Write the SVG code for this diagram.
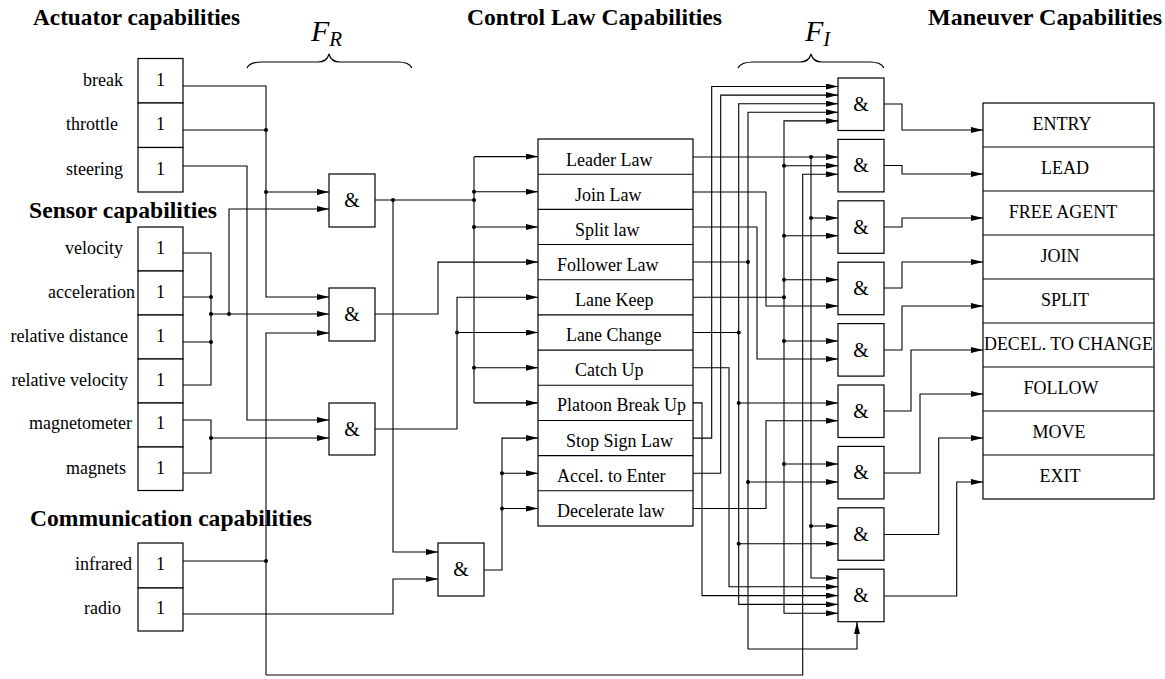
<svg xmlns="http://www.w3.org/2000/svg" width="1165" height="679" viewBox="0 0 1165 679">
<style>
.box{fill:#fff;stroke:#000;stroke-width:1.2}
.w{fill:none;stroke:#000;stroke-width:1.1}
.a{marker-end:url(#ah)}
.d{fill:#000}
text{font-family:"Liberation Serif","Times New Roman",serif;fill:#000}
.lbl{font-size:18px}
.e{text-anchor:end}
.m{text-anchor:middle}
.hdr{font-size:24px;font-weight:bold}
.amp{font-size:20px;text-anchor:middle}
.math{font-size:30px;font-style:italic}
.sub{font-size:21px;font-style:italic}
.brace{fill:none;stroke:#000;stroke-width:1.2}
</style>
<defs>
<marker id="ah" markerUnits="userSpaceOnUse" markerWidth="12" markerHeight="6" refX="12" refY="3" orient="auto">
<path d="M0,0 L12,3 L0,6 z" fill="#000"/>
</marker>
</defs>
<rect width="1165" height="679" fill="#fff"/>

<g id="headers">
<text class="hdr" x="33" y="25" textLength="207" lengthAdjust="spacingAndGlyphs">Actuator capabilities</text>
<text class="hdr" x="29" y="218" textLength="188" lengthAdjust="spacingAndGlyphs">Sensor capabilities</text>
<text class="hdr" x="30" y="526" textLength="282" lengthAdjust="spacingAndGlyphs">Communication capabilities</text>
<text class="hdr" x="467" y="25" textLength="255" lengthAdjust="spacingAndGlyphs">Control Law Capabilities</text>
<text class="hdr" x="928" y="25" textLength="234" lengthAdjust="spacingAndGlyphs">Maneuver Capabilities</text>
</g>

<g id="FR">
<text class="math" x="311" y="41">F<tspan class="sub" dy="5">R</tspan></text>
<path class="brace" d="M247,68 Q250,62 262,62 L318,62 Q327,62 329,54 Q331,62 340,62 L398,62 Q409,62 412,68"/>
</g>
<g id="FI">
<text class="math" x="805" y="41">F<tspan class="sub" dy="5">I</tspan></text>
<path class="brace" d="M738,68 Q741,62 753,62 L800,62 Q809,62 811,54 Q813,62 822,62 L870,62 Q881,62 884,68"/>
</g>

<g id="actuators">
<rect class="box" x="138" y="58.5" width="45" height="44.5"/>
<rect class="box" x="138" y="103" width="45" height="44.5"/>
<rect class="box" x="138" y="147.5" width="45" height="44.5"/>
<text class="lbl e" x="123" y="86">break</text>
<text class="lbl e" x="118" y="130">throttle</text>
<text class="lbl e" x="123" y="175">steering</text>
<text class="lbl m" x="160.5" y="86">1</text>
<text class="lbl m" x="160.5" y="130">1</text>
<text class="lbl m" x="160.5" y="175">1</text>
</g>

<g id="sensors">
<rect class="box" x="138" y="227" width="45" height="44"/>
<rect class="box" x="138" y="271" width="45" height="44"/>
<rect class="box" x="138" y="315" width="45" height="44"/>
<rect class="box" x="138" y="359" width="45" height="44"/>
<rect class="box" x="138" y="403" width="45" height="44"/>
<rect class="box" x="138" y="447" width="45" height="43.5"/>
<text class="lbl e" x="123" y="254">velocity</text>
<text class="lbl e" x="135" y="298">acceleration</text>
<text class="lbl e" x="128" y="342">relative distance</text>
<text class="lbl e" x="128" y="386">relative velocity</text>
<text class="lbl e" x="132" y="429">magnetometer</text>
<text class="lbl e" x="126" y="474">magnets</text>
<text class="lbl m" x="160.5" y="254">1</text>
<text class="lbl m" x="160.5" y="298">1</text>
<text class="lbl m" x="160.5" y="342">1</text>
<text class="lbl m" x="160.5" y="386">1</text>
<text class="lbl m" x="160.5" y="429">1</text>
<text class="lbl m" x="160.5" y="474">1</text>
</g>

<g id="communication">
<rect class="box" x="138" y="543" width="45" height="45"/>
<rect class="box" x="138" y="588" width="45" height="43"/>
<text class="lbl e" x="132" y="570">infrared</text>
<text class="lbl e" x="121" y="614">radio</text>
<text class="lbl m" x="160.5" y="570">1</text>
<text class="lbl m" x="160.5" y="614">1</text>
</g>

<g id="fr-gate-1"><rect class="box" x="329" y="174" width="46" height="53"/><text class="amp" x="352" y="207">&amp;</text></g>
<g id="fr-gate-2"><rect class="box" x="329" y="288" width="46" height="53"/><text class="amp" x="352" y="321">&amp;</text></g>
<g id="fr-gate-3"><rect class="box" x="329" y="403" width="46" height="52"/><text class="amp" x="352" y="436">&amp;</text></g>
<g id="fr-gate-4"><rect class="box" x="438" y="543" width="46" height="53"/><text class="amp" x="461" y="576">&amp;</text></g>

<g id="control-laws">
<rect class="box" x="538" y="139" width="155" height="387"/>
<path class="w" d="M538,174.2 H693 M538,209.4 H693 M538,244.5 H693 M538,279.7 H693 M538,314.9 H693 M538,350.1 H693 M538,385.3 H693 M538,420.5 H693 M538,455.6 H693 M538,490.8 H693"/>
<text class="lbl" x="566" y="166">Leader Law</text>
<text class="lbl" x="575" y="201">Join Law</text>
<text class="lbl" x="575" y="236">Split law</text>
<text class="lbl" x="557" y="271">Follower Law</text>
<text class="lbl" x="575" y="306">Lane Keep</text>
<text class="lbl" x="566" y="341">Lane Change</text>
<text class="lbl" x="575" y="376">Catch Up</text>
<text class="lbl" x="557" y="411">Platoon Break Up</text>
<text class="lbl" x="566" y="447">Stop Sign Law</text>
<text class="lbl" x="557" y="482">Accel. to Enter</text>
<text class="lbl" x="557" y="517">Decelerate law</text>
</g>

<g id="fi-gate-1"><rect class="box" x="838" y="78" width="46" height="52.5"/><text class="amp" x="861" y="111">&amp;</text></g>
<g id="fi-gate-2"><rect class="box" x="838" y="139.4" width="46" height="52.5"/><text class="amp" x="861" y="172.4">&amp;</text></g>
<g id="fi-gate-3"><rect class="box" x="838" y="200.8" width="46" height="52.5"/><text class="amp" x="861" y="233.8">&amp;</text></g>
<g id="fi-gate-4"><rect class="box" x="838" y="262.2" width="46" height="52.5"/><text class="amp" x="861" y="295.2">&amp;</text></g>
<g id="fi-gate-5"><rect class="box" x="838" y="323.6" width="46" height="52.5"/><text class="amp" x="861" y="356.6">&amp;</text></g>
<g id="fi-gate-6"><rect class="box" x="838" y="385" width="46" height="52.5"/><text class="amp" x="861" y="418">&amp;</text></g>
<g id="fi-gate-7"><rect class="box" x="838" y="446.4" width="46" height="52.5"/><text class="amp" x="861" y="479.4">&amp;</text></g>
<g id="fi-gate-8"><rect class="box" x="838" y="507.8" width="46" height="52.5"/><text class="amp" x="861" y="540.8">&amp;</text></g>
<g id="fi-gate-9"><rect class="box" x="838" y="569.2" width="46" height="52.5"/><text class="amp" x="861" y="602.2">&amp;</text></g>

<g id="maneuvers">
<rect class="box" x="983" y="103" width="171" height="396"/>
<path class="w" d="M983,147 H1154 M983,191 H1154 M983,235 H1154 M983,279 H1154 M983,323 H1154 M983,367 H1154 M983,411 H1154 M983,455 H1154"/>
<text class="lbl m" x="1062" y="130">ENTRY</text>
<text class="lbl m" x="1065" y="174">LEAD</text>
<text class="lbl m" x="1063" y="218">FREE AGENT</text>
<text class="lbl m" x="1060" y="262">JOIN</text>
<text class="lbl m" x="1065" y="306">SPLIT</text>
<text class="lbl" x="984" y="350" textLength="169" lengthAdjust="spacingAndGlyphs">DECEL. TO CHANGE</text>
<text class="lbl m" x="1061" y="394">FOLLOW</text>
<text class="lbl m" x="1059" y="438">MOVE</text>
<text class="lbl m" x="1060" y="482">EXIT</text>
</g>

<g id="connectors">
<path class="w a" d="M183,86 H266 V297 H329"/>
<path class="w" d="M183,130 H266"/>
<path class="w a" d="M266,192 H329"/>
<path class="w a" d="M183,166 H247 V420 H329"/>
<path class="w" d="M183,253 H211 V385 H183 M183,297 H211 M183,342 H211"/>
<path class="w a" d="M211,314 H329"/>
<path class="w a" d="M229,314 V209 H329"/>
<path class="w" d="M183,420 H211 V473 H183"/>
<path class="w a" d="M211,438 H329"/>
<path class="w" d="M183,561 H266"/>
<path class="w a" d="M266,675 V333 H329"/>
<path class="w a" d="M266,675 H802.7 V174.3 H838"/>
<path class="w a" d="M183,614 H393 V579 H438"/>
<path class="w" d="M375,200 H474"/>
<path class="w a" d="M393,200 V552 H438"/>
<path class="w" d="M474,157 V403"/>
<path class="w a" d="M474,156.6 H538"/>
<path class="w a" d="M474,191.8 H538"/>
<path class="w a" d="M474,227 H538"/>
<path class="w a" d="M474,367.7 H538"/>
<path class="w a" d="M474,402.9 H538"/>
<path class="w a" d="M375,314 H438 V262.1 H538"/>
<path class="w a" d="M375,429 H457 V297.3 H538"/>
<path class="w a" d="M457,332.5 H538"/>
<path class="w a" d="M484,570 H502 V438.1 H538"/>
<path class="w a" d="M502,473.3 H538"/>
<path class="w a" d="M502,508.5 H538"/>
<path class="w a" d="M693,157 H838"/>
<path class="w a" d="M811,157 V578 H838"/>
<path class="w a" d="M811,218 H838"/>
<path class="w a" d="M811,526 H838"/>
<path class="w a" d="M693,192 H766 V306 H838"/>
<path class="w a" d="M693,227 H757 V359 H838"/>
<path class="w" d="M693,262 H748"/>
<path class="w a" d="M748,649 V112.3 H838"/>
<path class="w a" d="M748,649 H857 V622"/>
<path class="w a" d="M748,482 H838"/>
<path class="w" d="M693,297.3 H784"/>
<path class="w a" d="M784,297.3 V120.9 H838"/>
<path class="w a" d="M784,297.3 V613.2 H838"/>
<path class="w a" d="M784,165.7 H838"/>
<path class="w a" d="M784,235.7 H838"/>
<path class="w a" d="M784,279.7 H838"/>
<path class="w a" d="M784,341 H838"/>
<path class="w a" d="M784,464 H838"/>
<path class="w" d="M693,332.5 H738.7"/>
<path class="w a" d="M738.7,332.5 V103.7 H838"/>
<path class="w a" d="M738.7,332.5 V604.4 H838"/>
<path class="w a" d="M738.7,403 H838"/>
<path class="w a" d="M738.7,543.7 H838"/>
<path class="w a" d="M693,367.7 H729 V586.8 H838"/>
<path class="w a" d="M693,402.9 H702 V595.6 H838"/>
<path class="w a" d="M693,438.1 H711.7 V86.5 H838"/>
<path class="w a" d="M693,473.3 H720.7 V95.1 H838"/>
<path class="w a" d="M693,508.5 H766 V420.7 H838"/>
<path class="w a" d="M884,104 H902 V130 H983"/>
<path class="w a" d="M884,165.5 H902 V174 H983"/>
<path class="w a" d="M884,227 H902 V218 H983"/>
<path class="w a" d="M884,288 H902 V262 H983"/>
<path class="w a" d="M884,350 H902 V306 H983"/>
<path class="w a" d="M884,411 H911 V350 H983"/>
<path class="w a" d="M884,473 H920 V394 H983"/>
<path class="w a" d="M884,534.5 H938.7 V438 H983"/>
<path class="w a" d="M884,596 H956.7 V482 H983"/>
<g class="d">
<circle cx="266" cy="130" r="2"/><circle cx="266" cy="192" r="2"/>
<circle cx="211" cy="297" r="2"/><circle cx="211" cy="314" r="2"/><circle cx="229" cy="314" r="2"/><circle cx="211" cy="342" r="2"/>
<circle cx="211" cy="438" r="2"/><circle cx="266" cy="561" r="2"/>
<circle cx="393" cy="200" r="2"/>
<circle cx="474" cy="191.8" r="2"/><circle cx="474" cy="200" r="2"/><circle cx="474" cy="227" r="2"/><circle cx="474" cy="367.7" r="2"/>
<circle cx="457" cy="332.5" r="2"/><circle cx="502" cy="473.3" r="2"/><circle cx="502" cy="508.5" r="2"/>
<circle cx="811" cy="157" r="2"/><circle cx="811" cy="218" r="2"/><circle cx="811" cy="526" r="2"/>
<circle cx="784" cy="165.7" r="2"/><circle cx="784" cy="235.7" r="2"/><circle cx="784" cy="279.7" r="2"/><circle cx="784" cy="297.3" r="2"/><circle cx="784" cy="341" r="2"/><circle cx="784" cy="464" r="2"/>
<circle cx="748" cy="262" r="2"/><circle cx="748" cy="482" r="2"/>
<circle cx="738.7" cy="332.5" r="2"/><circle cx="738.7" cy="403" r="2"/><circle cx="738.7" cy="543.7" r="2"/>
</g>
</g>
</svg>
